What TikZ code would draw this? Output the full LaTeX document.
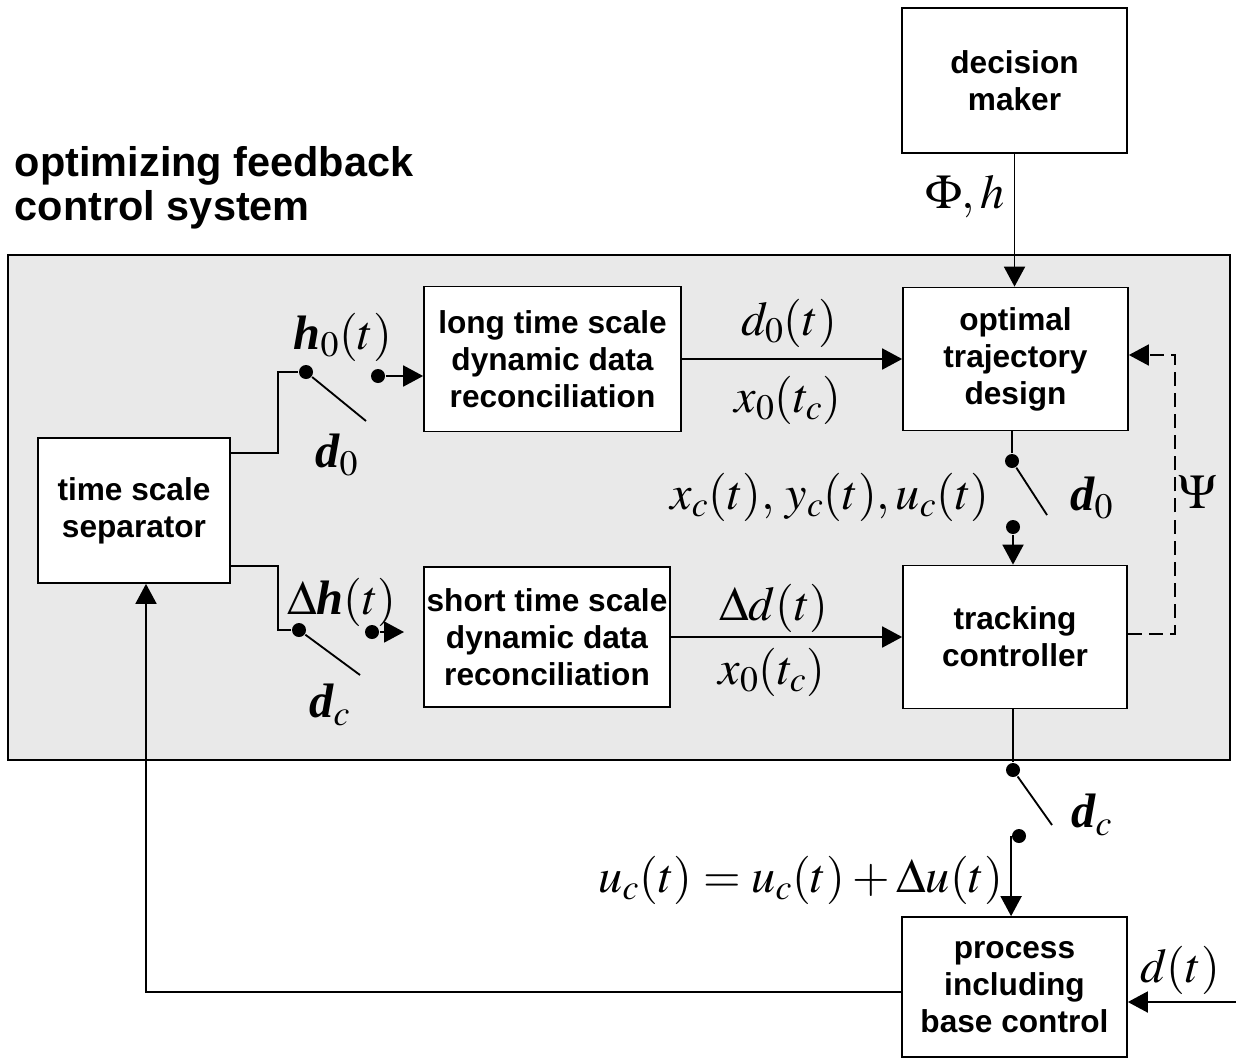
\documentclass[tikz,border=0pt]{standalone}
\usepackage{mathptmx}
\usepackage[no-math]{fontspec}
\setmainfont{Liberation Serif}
\setsansfont{Liberation Sans}
\newfontfamily\bitimes{Liberation Serif}
\newcommand\bsym[1]{\mbox{\bitimes\bfseries\itshape #1}}
\usetikzlibrary{arrows.meta}
\definecolor{panelgray}{RGB}{233,233,233}

\tikzset{
  block/.style={draw, fill=white, line width=1pt, align=center, inner sep=0pt,
    font=\sffamily\bfseries\fontsize{18}{21}\selectfont},
  pin/.style={circle, fill=black, minimum size=0.28cm, inner sep=0pt},
  lab/.style={font=\fontsize{27.5}{32}\selectfont, inner sep=0pt},
  arr/.style={-{Triangle[length=0.4cm,width=0.42cm]}}
}

\begin{document}
\begin{tikzpicture}[x=0.02cm, y=-0.02cm, line width=1.05pt]
\useasboundingbox (0,0) rectangle (1236,1058);

% grey panel of the feedback system
\filldraw[fill=panelgray, line width=1.2pt] (8,255) rectangle (1230,760);
\node[anchor=north west, inner sep=0pt, align=left,
  font=\sffamily\bfseries\fontsize{23.6}{25}\selectfont] (title) at (14,146)
  {optimizing feedback\\control system};

% Blocks
\node[block, minimum width=4.5cm, minimum height=2.9cm] (dm) at (1014.5,80.5) {decision\\maker};
\node[block, minimum width=4.5cm, minimum height=2.86cm] (opt) at (1015.5,359) {optimal\\trajectory\\design};
\node[block, minimum width=5.14cm, minimum height=2.9cm] (long) at (552.5,359) {long time scale\\dynamic data\\reconciliation};
\node[block, minimum width=4.92cm, minimum height=2.8cm] (short) at (547,637) {short time scale\\dynamic data\\reconciliation};
\node[block, minimum width=4.48cm, minimum height=2.86cm] (track) at (1015,637) {tracking\\controller};
\node[block, minimum width=3.84cm, minimum height=2.9cm] (sep) at (134,510.5) {time scale\\separator};
\node[block, minimum width=4.5cm, minimum height=2.8cm] (proc) at (1014.5,987) {process\\including\\base control};

% Switch on the long time scale path
\coordinate (s1) at (278,453);
\node[pin] (h0a) at (306,372) {};
\coordinate (h0b) at (366,421);
\node[pin] (h0c) at (378,376) {};
\draw (sep.east |- s1) -- (s1) |- (h0a);
\draw (h0a) -- (h0b);
\draw[arr] (h0c) -- (h0c -| long.west);

% Switch on the short time scale path
\coordinate (s2) at (278,566);
\node[pin] (dha) at (299,630) {};
\coordinate (dhb) at (360,675);
\node[pin] (dhc) at (372,632) {};
\coordinate (dhd) at (404,632);
\draw (sep.east |- s2) -- (s2) |- (dha);
\draw (dha) -- (dhb);
\draw[arr] (dhc) -- (dhd);

% Reconciliation outputs
\draw[arr] (long.east) -- (long.east -| opt.west);
\draw[arr] (short.east) -- (track.west);

% Decision maker
\draw[arr] (dm.south) -- (dm.south |- opt.north);

% Switch between optimal design and tracking
\node[pin] (x0a) at (1012,461) {};
\coordinate (x0b) at (1047,515);
\node[pin] (x0c) at (1013,527) {};
\draw (x0a |- opt.south) -- (x0a);
\draw (x0a) -- (x0b);
\draw[arr] (x0c) -- (x0c |- track.north);

% Switch between tracking and process
\node[pin] (uca) at (1013,770) {};
\coordinate (ucb) at (1052,825);
\node[pin] (ucc) at (1019,836) {};
\draw (uca |- track.south) -- (uca);
\draw (uca) -- (ucb);
\draw[arr] (ucc.west) -- (ucc.west |- proc.north);

% Psi feedback (dashed)
\coordinate (psi) at (1175,634);
\coordinate (psitop) at (1175,355);
\draw[arr, dash pattern=on 8pt off 4pt] (track.east |- psi) -- (psi) -- (psitop) -- (psitop -| opt.east);

% Measurement feedback and disturbance
\coordinate (fb) at (146,992);
\draw[arr] (proc.west |- fb) -| (sep.south -| fb);
\coordinate (din) at (1236,1002);
\draw[arr] (din) -- (din -| proc.east);

% Labels
\node[lab] (lh0) at (343,337) {$\bsym{h}_0(t)$};
\node[lab] (ld0a) at (337,455) {$\bsym{d}_0$};
\node[lab] (ldh) at (342,602) {$\Delta\bsym{h}(t)$};
\node[lab] (ldca) at (330,705) {$\bsym{d}_c$};
\node[lab] (ld0t) at (789,323) {$d_0(t)$};
\node[lab] (lx0a) at (788,400) {$x_0(t_c)$};
\node[lab] (ldd) at (774,608) {$\Delta d(t)$};
\node[lab] (lx0b) at (772,672) {$x_0(t_c)$};
\node[lab] (lxyu) at (830,497) {$x_c(t),\, y_c(t), u_c(t)$};
\node[lab] (ld0b) at (1092,498) {$\bsym{d}_0$};
\node[lab] (ldcb) at (1092,815) {$\bsym{d}_c$};
\node[lab, anchor=east] (luc) at (1004,880) {$u_c(t) = u_c(t) + \Delta u(t)$};
\node[lab] (ld) at (1180,970) {$d(t)$};
\node[lab] (lphi) at (965,197) {$\Phi, h$};
\node[lab] (lpsi) at (1198,492) {$\Psi$};

\end{tikzpicture}
\end{document}
